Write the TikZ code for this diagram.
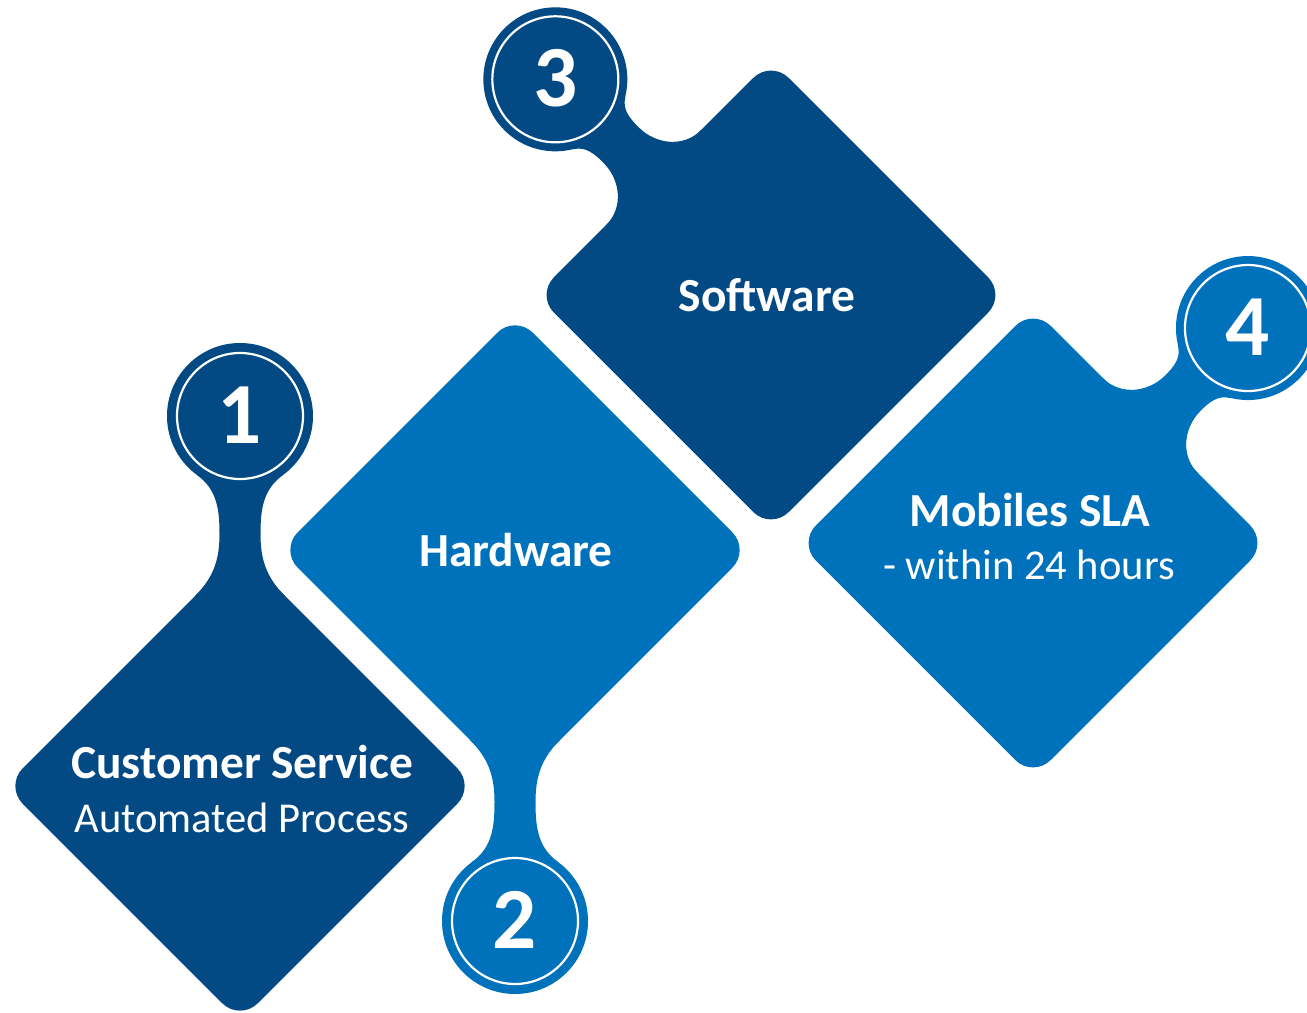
\documentclass[tikz,border=0pt]{standalone}
\usepackage{fontspec}
\setmainfont{Carlito}
\definecolor{darkblue}{RGB}{3,74,132}
\definecolor{midblue}{RGB}{0,113,187}
\tikzset{
  box/.style={rounded corners=2.5mm},
  ring/.style={draw=white, line width=0.22mm},
  title/.style={text=white, font=\bfseries\fontsize{13.5}{16}\selectfont, inner sep=0pt, anchor=base},
  sub/.style={text=white, font=\fontsize{12.1}{14}\selectfont, inner sep=0pt, anchor=base},
  num/.style={text=white, font=\bfseries\fontsize{24.8}{28}\selectfont, inner sep=0pt, anchor=base, yshift=-2.75mm}
}

\begin{document}
\begin{tikzpicture}[x=0.1mm, y=0.1mm]
  \clip (0,0) rectangle (1307,-1013);

  % step 1, circle on top vertex
  \begin{scope}[shift={(240,-786)}]
    \fill[darkblue, box] (0,235) -- (235,0) -- (0,-235) -- (-235,0) -- cycle;
    \fill[darkblue] (0,370) circle (73);
    \fill[darkblue] (-45,190) to[out=45,in=-90] (-20.5,252) to[out=90,in=-36] (-43,311)
      -- (0,370) -- (43,311) to[out=-144,in=90] (20.5,252) to[out=-90,in=135] (45,190) -- (0,0) -- cycle;
    \draw[ring] (0,370) circle (63);
    \coordinate (c1) at (0,370);
  \end{scope}

  % step 2, circle on bottom vertex
  \begin{scope}[shift={(515,-550)}, rotate=180]
    \fill[midblue, box] (0,235) -- (235,0) -- (0,-235) -- (-235,0) -- cycle;
    \fill[midblue] (0,371) circle (73);
    \fill[midblue] (-45,190) to[out=45,in=-90] (-20.5,252) to[out=90,in=-36] (-43,312)
      -- (0,371) -- (43,312) to[out=-144,in=90] (20.5,252) to[out=-90,in=135] (45,190) -- (0,0) -- cycle;
    \draw[ring] (0,371) circle (63);
    \coordinate (c2) at (0,371);
  \end{scope}

  % step 3, circle on upper left side
  \begin{scope}[shift={(771,-295)}, rotate=45]
    \fill[darkblue, box] (-166,-166) rectangle (166,166);
    \fill[darkblue] (0,305) circle (72);
    \fill[darkblue] (-67,166) to[out=0,in=-90] (-25,212) to[out=90,in=-31] (-37,243)
      -- (0,305) -- (37,243) to[out=-149,in=90] (25,212) to[out=-90,in=180] (67,166) -- (0,0) -- cycle;
    \draw[ring] (0,305) circle (63);
    \coordinate (c3) at (0,305);
  \end{scope}

  % step 4, circle on upper right side
  \begin{scope}[shift={(1033,-543)}, rotate=-45]
    \fill[midblue, box] (-166,-166) rectangle (166,166);
    \fill[midblue] (0,304) circle (72);
    \fill[midblue] (-67,166) to[out=0,in=-90] (-25,212) to[out=90,in=-31] (-37,242)
      -- (0,304) -- (37,242) to[out=-149,in=90] (25,212) to[out=-90,in=180] (67,166) -- (0,0) -- cycle;
    \draw[ring] (0,304) circle (63);
    \coordinate (c4) at (0,304);
  \end{scope}

  \node (n1) [num] at (c1) {1};
  \node (n2) [num] at (c2) {2};
  \node (n3) [num] at (c3) {3};
  \node (n4) [num] at (c4) {4};

  \node (t1) [title] at (242,-778) {Customer Service};
  \node (s1) [sub] at (242,-832) {Automated Process};
  \node (t2) [title] at (516,-566) {Hardware};
  \node (t3) [title] at (767,-312) {Software};
  \node (t4) [title] at (1030,-527) {Mobiles SLA};
  \node (s4) [sub] at (1029,-580) {- within 24 hours};
\end{tikzpicture}
\end{document}
